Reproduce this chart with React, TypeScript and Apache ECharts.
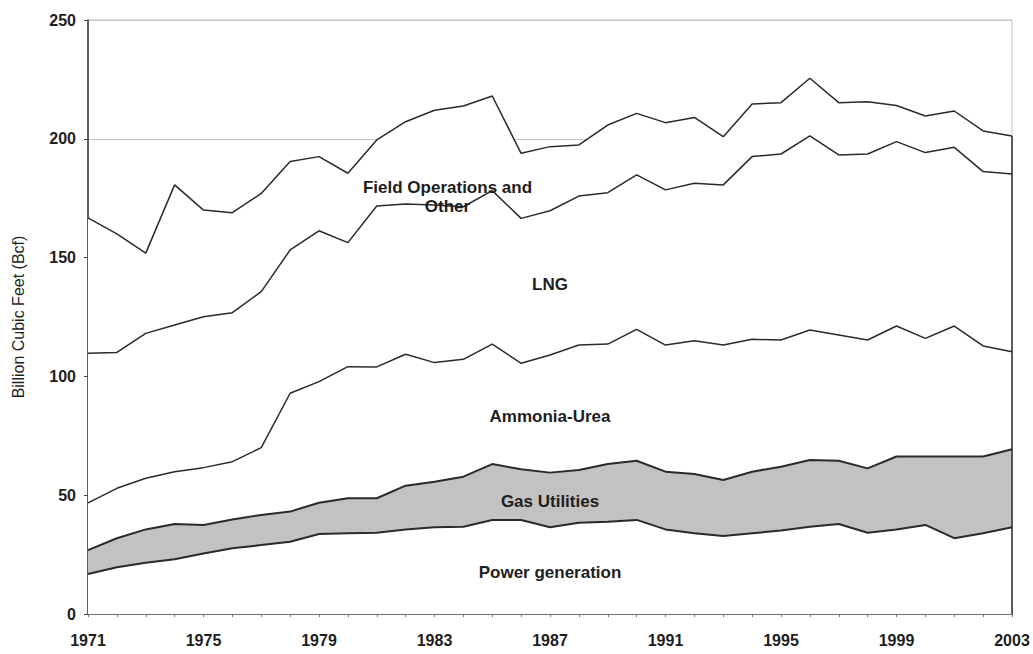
import React, { useEffect, useRef } from "react";
import * as echarts from "echarts";

const years = [
  "1971", "1972", "1973", "1974", "1975", "1976", "1977", "1978", "1979", "1980",
  "1981", "1982", "1983", "1984", "1985", "1986", "1987", "1988", "1989", "1990",
  "1991", "1992", "1993", "1994", "1995", "1996", "1997", "1998", "1999", "2000",
  "2001", "2002", "2003",
];

const powerGeneration = [
  16.8, 19.7, 21.6, 23.0, 25.5, 27.7, 29.0, 30.4, 33.7, 34.0, 34.2, 35.6, 36.5, 36.7, 39.6, 39.6,
  36.5, 38.4, 38.8, 39.6, 35.6, 34.0, 32.8, 34.0, 35.1, 36.7, 37.9, 34.2, 35.6, 37.5, 31.9, 34.0, 36.5,
];
const gasUtilities = [
  10.1, 12.2, 14.0, 14.9, 12.0, 12.1, 12.7, 12.7, 13.1, 14.7, 14.5, 18.4, 19.2, 21.1, 23.5, 21.3,
  23.0, 22.2, 24.3, 24.9, 24.3, 24.9, 23.6, 25.9, 26.9, 28.1, 26.6, 27.1, 30.7, 28.8, 34.4, 32.3, 32.8,
];
const ammoniaUrea = [
  19.9, 21.0, 21.5, 22.0, 24.1, 24.3, 28.3, 49.8, 51.0, 55.4, 55.3, 55.3, 50.1, 49.4, 50.5, 44.6,
  49.5, 52.6, 50.5, 55.3, 53.3, 56.1, 56.8, 55.7, 53.3, 54.7, 52.9, 54.0, 54.9, 49.7, 54.9, 46.5, 41.1,
];
const lng = [
  62.9, 57.2, 61.0, 61.7, 63.5, 62.7, 65.7, 60.3, 63.5, 52.2, 67.7, 63.3, 66.3, 64.2, 64.6, 61.0,
  60.7, 62.7, 63.7, 65.0, 65.3, 66.3, 67.4, 76.9, 78.3, 81.7, 75.8, 78.3, 77.6, 78.2, 75.2, 73.4, 74.8,
];
const fieldOperations = [
  57.0, 49.9, 33.8, 59.0, 44.9, 42.1, 41.3, 37.2, 31.2, 29.2, 27.8, 34.6, 39.9, 42.4, 39.8, 27.4,
  27.0, 21.5, 28.5, 25.9, 28.3, 27.7, 20.3, 22.1, 21.6, 24.3, 22.0, 22.0, 15.2, 15.4, 15.3, 17.1, 16.0,
];

const yTicks = { min: 0, max: 250, interval: 50 };

const FONT = "'Liberation Sans', Arial, sans-serif";
const LINE = "#2a2a2a";

function labelPoint(text: string, year: string, value: number, offsetX = 0) {
  return {
    coord: [year, value],
    symbol: "circle",
    symbolSize: 1,
    itemStyle: { color: "rgba(0,0,0,0)" },
    label: {
      show: true,
      position: "inside",
      offset: [offsetX, 0],
      formatter: text,
      color: "#1e1e1e",
      fontFamily: FONT,
      fontSize: 17,
      fontWeight: "bold",
      lineHeight: 19,
      align: "center",
    },
  };
}

export default function App() {
  const ref = useRef<HTMLDivElement>(null);

  useEffect(() => {
    if (!ref.current) return;
    const chart = echarts.init(ref.current, undefined, { renderer: "svg" });
    const last = years.length - 1;
    const total =
      powerGeneration[last] + gasUtilities[last] + ammoniaUrea[last] + lng[last] + fieldOperations[last];

    const mkSeries = (name: string, data: number[], fill: string, width: number, extra: any = {}) => ({
      name,
      type: "line",
      stack: "total",
      data,
      symbol: "none",
      lineStyle: { color: LINE, width },
      areaStyle: { color: fill, opacity: 1 },
      z: 2,
      ...extra,
    });

    chart.setOption({
      animation: false,
      backgroundColor: "#ffffff",
      grid: {
        left: 88,
        right: 21,
        top: 20,
        bottom: 40,
        show: true,
        borderColor: "#c4c4c4",
        borderWidth: 1,
        backgroundColor: "rgba(0,0,0,0)",
      },
      xAxis: {
        type: "category",
        data: years,
        boundaryGap: false,
        axisLine: { show: true, lineStyle: { color: "#555", width: 1.5 } },
        axisTick: { show: true, interval: 0, length: 3, lineStyle: { color: "#777" } },
        axisLabel: {
          interval: 3,
          margin: 18,
          color: "#1e1e1e",
          fontFamily: FONT,
          fontSize: 16,
          fontWeight: "bold",
        },
        splitLine: { show: false },
      },
      yAxis: {
        type: "value",
        min: yTicks.min,
        max: yTicks.max,
        interval: yTicks.interval,
        name: "Billion Cubic Feet (Bcf)",
        nameLocation: "middle",
        nameRotate: 90,
        nameGap: 62,
        nameTextStyle: { color: "#1e1e1e", fontFamily: FONT, fontSize: 16, fontWeight: "normal" },
        axisLine: { show: true, lineStyle: { color: "#333", width: 1.5 } },
        axisTick: { show: true, length: 4, lineStyle: { color: "#444" } },
        axisLabel: {
          margin: 12,
          color: "#1e1e1e",
          fontFamily: FONT,
          fontSize: 16,
          fontWeight: "bold",
        },
        splitLine: { show: true, lineStyle: { color: "#c4c4c4", width: 1 } },
      },
      series: [
        mkSeries("Power generation", powerGeneration, "#ffffff", 2, {
          markPoint: { silent: true, data: [labelPoint("Power generation", "1987", 17.5)] },
        }),
        mkSeries("Gas Utilities", gasUtilities, "#c2c2c2", 2, {
          markPoint: { silent: true, data: [labelPoint("Gas Utilities", "1987", 47.3)] },
        }),
        mkSeries("Ammonia-Urea", ammoniaUrea, "#ffffff", 1.5, {
          markPoint: { silent: true, data: [labelPoint("Ammonia-Urea", "1987", 83.3)] },
        }),
        mkSeries("LNG", lng, "#ffffff", 1.5, {
          markPoint: { silent: true, data: [labelPoint("LNG", "1987", 138.5)] },
        }),
        mkSeries("Field Operations and Other", fieldOperations, "#ffffff", 1.5, {
          markPoint: {
            silent: true,
            data: [labelPoint("Field Operations and\nOther", "1983", 175.3, 13)],
          },
          markLine: {
            silent: true,
            symbol: "none",
            label: { show: false },
            lineStyle: { color: LINE, width: 1.5, type: "solid" },
            data: [[{ coord: [years[last], 0] }, { coord: [years[last], total] }]],
          },
        }),
      ],
    });

    return () => chart.dispose();
  }, []);

  return <div ref={ref} style={{ width: 1033, height: 654, position: "absolute", left: 0, top: 0 }} />;
}
